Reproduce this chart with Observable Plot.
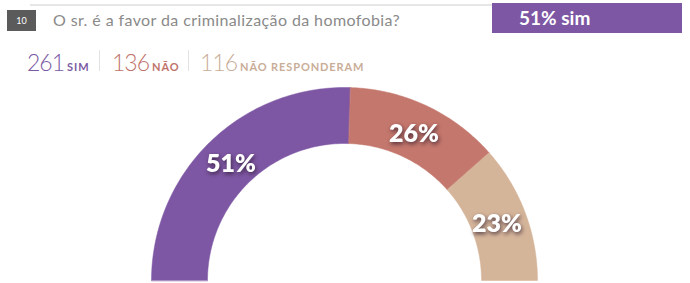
<!DOCTYPE html>
<html>
<head>
<meta charset="utf-8">
<script src="https://cdn.jsdelivr.net/npm/d3@7"></script>
<script src="https://cdn.jsdelivr.net/npm/@observablehq/plot@0.6"></script>
<style>
  html, body { margin: 0; padding: 0; background: #fff; width: 690px; height: 283px; overflow: hidden; font-family: Lato, "Open Sans", sans-serif; }
  #header { position: relative; height: 40px; }
  #topline { position: absolute; left: 30px; top: 4px; width: 470px; height: 2px; background: #e6e6e6; }
  #num { position: absolute; left: 7px; top: 10px; width: 29px; height: 21px; background: #5b5b5b; color: #fff; font-size: 9px; line-height: 21px; text-align: center; }
  #question { position: absolute; left: 53px; top: 10px; font-size: 16px; letter-spacing: 0.4px; color: #8a8a8a; white-space: nowrap; }
  #badge { position: absolute; left: 492px; top: 3px; width: 190px; height: 30px; background: #7e57a4; color: #fff; font-weight: 700; font-size: 19px; line-height: 30px; box-sizing: border-box; padding-left: 27px; }
  #legend { position: relative; height: 45px; }
  .item { position: absolute; top: 8px; white-space: nowrap; }
  .n { font-size: 23px; font-weight: 300; letter-spacing: -1px; }
  .l { font-size: 11px; font-weight: 700; letter-spacing: 0.9px; margin-left: 3px; }
  .div { position: absolute; top: 10px; width: 1px; height: 21px; background: #e2e2e2; }
  #chart svg { display: block; }
</style>
</head>
<body>
<div id="header">
  <div id="topline"></div>
  <div id="num">10</div>
  <div id="question"></div>
  <div id="badge"></div>
</div>
<div id="legend"></div>
<div id="chart"></div>
<script>
// ---- data ----
const question = "O sr. é a favor da criminalização da homofobia?";
const badgeText = "51% sim";
const categories = ["SIM", "NÃO", "NÃO RESPONDERAM"];
const counts = [261, 136, 116];
const percents = [51, 26, 23];
const colors = ["#7e57a4", "#c4776c", "#d5b59a"];
const legendColors = ["#7b5aa3", "#c0736a", "#c9ad97"];

// ---- header & legend ----
document.getElementById("question").textContent = question;
document.getElementById("badge").textContent = badgeText;
const legend = document.getElementById("legend");
const itemX = [27, 112, 200];
const divX = [99, 188];
categories.forEach((c, i) => {
  const el = document.createElement("div");
  el.className = "item";
  el.style.left = itemX[i] + "px";
  el.style.color = legendColors[i];
  el.innerHTML = `<span class="n">${counts[i]}</span><span class="l">${c}</span>`;
  legend.appendChild(el);
});
divX.forEach(x => {
  const d = document.createElement("div");
  d.className = "div";
  d.style.left = x + "px";
  legend.appendChild(d);
});

// ---- semicircle donut ----
const R = 193, r0 = 137, rl = 163;
const total = d3.sum(percents);
let cum = 0;
const slices = categories.map((c, i) => {
  const a0 = Math.PI * (1 - cum / total);
  cum += percents[i];
  const a1 = Math.PI * (1 - cum / total);
  return {cat: c, pct: percents[i], a0, a1};
});
const poly = [];
slices.forEach(s => {
  const n = 80;
  for (let k = 0; k <= n; k++) {
    const a = s.a0 + (s.a1 - s.a0) * k / n;
    poly.push({cat: s.cat, x: R * Math.cos(a), y: R * Math.sin(a)});
  }
  for (let k = n; k >= 0; k--) {
    const a = s.a0 + (s.a1 - s.a0) * k / n;
    poly.push({cat: s.cat, x: r0 * Math.cos(a), y: r0 * Math.sin(a)});
  }
});
const labels = slices.map(s => {
  const a = (s.a0 + s.a1) / 2;
  return {cat: s.cat, text: s.pct + "%", x: rl * Math.cos(a), y: rl * Math.sin(a)};
});

const plot = Plot.plot({
  width: 690,
  height: 198,
  margin: 0,
  x: {domain: [-344, 346], range: [0, 690], axis: null},
  y: {domain: [-3, 195], range: [198, 0], axis: null},
  color: {domain: categories, range: colors},
  style: {fontFamily: "Lato, 'Open Sans', sans-serif", background: "#fff"},
  marks: [
    Plot.line(poly, {x: "x", y: "y", z: "cat", fill: "cat", stroke: "cat", strokeWidth: 0.5, curve: "linear-closed"}),
    Plot.text(labels, {x: "x", y: "y", text: "text", fill: "#fff", fontSize: 25, fontWeight: 800, dy: 1})
  ]
});
plot.querySelectorAll('g[aria-label="text"] text').forEach(t => {
  t.style.filter = "drop-shadow(1px 2px 2px rgba(40,20,40,0.75))";
});
document.getElementById("chart").appendChild(plot);
</script>
</body>
</html>
